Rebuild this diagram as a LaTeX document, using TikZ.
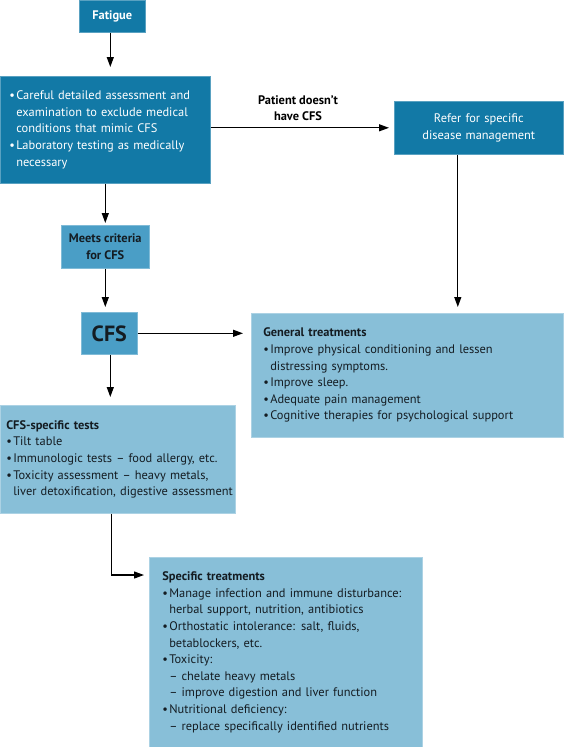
\documentclass[tikz,border=0pt]{standalone}
\usepackage{fontspec}
\setmainfont{PT Sans}
\usepackage{tikz}
\usetikzlibrary{arrows.meta}
\definecolor{boxdark}{RGB}{18,121,166}
\definecolor{boxmid}{RGB}{74,158,198}
\definecolor{boxlight}{RGB}{136,191,216}
\definecolor{txtdark}{RGB}{20,28,34}
\newcommand{\bul}{\makebox[7pt][l]{\textbullet}}
\newcommand{\ind}{\hspace*{7pt}}
\hyphenpenalty=10000
\exhyphenpenalty=10000
\hbadness=10000
\hfuzz=20pt
\tikzset{
  darkbox/.style={fill=boxdark, draw=boxdark!70!white, line width=0.6pt, text=white, anchor=north west, inner ysep=0pt},
  midbox/.style={fill=boxmid, draw=boxmid!70!white, line width=0.6pt, text=txtdark, anchor=north west, inner ysep=0pt, align=center, font=\bfseries\fontsize{12.4}{16.6}\selectfont},
  lightbox/.style={fill=boxlight, draw=boxlight!70!white, line width=0.6pt, text=txtdark, anchor=north west, inner ysep=0pt, align=left},
  arr/.style={black, line width=1.2pt, -{Triangle[length=10pt,width=7pt]}, shorten >=5pt}
}
\begin{document}
\begin{tikzpicture}[x=1pt,y=-1pt, font=\fontsize{12.4}{16.6}\selectfont]
\useasboundingbox (0,0) rectangle (563,747);
\coordinate (P1) at (79,0);
\coordinate (P2) at (0,76);
\coordinate (P3) at (394,101);
\coordinate (P4) at (61,225);
\coordinate (P5) at (81,312);
\coordinate (P6) at (251,313);
\coordinate (P7) at (0,405);
\coordinate (P8) at (149,557);
%------------------
\node[darkbox, minimum width=66pt, minimum height=32pt, inner xsep=0pt, font=\bfseries\fontsize{12.4}{16.6}\selectfont] (fatigue) at (P1) {Fatigue};
\node[darkbox, minimum width=210pt, minimum height=107pt, inner xsep=9pt, text width=192pt, align=left] (assess) at (P2)
  {\bul Careful detailed assessment and\\ \ind examination to exclude medical\\ \ind conditions that mimic CFS\\
   \bul Laboratory testing as medically\\ \ind necessary};
\node[darkbox, minimum width=169pt, minimum height=53pt, inner xsep=4pt, text width=161pt, align=center] (refer) at (P3)
  {Refer for specific\\ disease management};
\node[midbox, minimum width=88pt, minimum height=43pt, inner xsep=0pt] (meets) at (P4) {Meets criteria\\ for CFS};
\node[midbox, minimum width=56pt, minimum height=42pt, inner xsep=0pt, font=\bfseries\fontsize{22}{24}\selectfont] (cfs) at (P5) {CFS};
\node[lightbox, minimum width=312pt, minimum height=124pt, inner xsep=12pt, text width=288pt] (general) at (P6)
  {\textbf{General treatments}\\
   \bul Improve physical conditioning and lessen\\ \ind distressing symptoms.\\
   \bul Improve sleep.\\
   \bul Adequate pain management\\
   \bul Cognitive therapies for psychological support};
\node[lightbox, minimum width=235pt, minimum height=108pt, inner xsep=6pt, text width=223pt] (tests) at (P7)
  {\textbf{CFS-specific tests}\\
   \bul Tilt table\\
   \bul Immunologic tests -- food allergy, etc.\\
   \bul Toxicity assessment -- heavy metals,\\ \ind\mbox{liver detoxification, digestive assessment}};
\node[lightbox, minimum width=273pt, minimum height=190pt, inner xsep=13pt, text width=247pt] (specific) at (P8)
  {\textbf{Specific treatments}\\
   \bul Manage infection and immune disturbance:\\ \ind herbal support, nutrition, antibiotics\\
   \bul Orthostatic intolerance: salt, fluids,\\ \ind betablockers, etc.\\
   \bul Toxicity:\\
   \ind -- chelate heavy metals\\
   \ind -- improve digestion and liver function\\
   \bul Nutritional deficiency:\\
   \ind -- replace specifically identified nutrients};
\node[font=\bfseries\fontsize{12.4}{16.6}\selectfont, align=center] (nocfs) at (298,108) {Patient doesn’t\\ have CFS};
%------------------
\draw[arr, shorten >=9pt] ([xshift=-2pt]fatigue.south) -- ([xshift=-2pt]fatigue.south |- assess.north);
\draw[arr] (assess.east |- refer.west) -- (refer.west);
\draw[arr, shorten >=2pt] (assess.south -| meets.south) -- (meets.north);
\draw[arr] (meets.south) -- (meets.south |- cfs.north);
\draw[arr, shorten >=8pt] (cfs.east) -- (cfs.east -| general.west);
\draw[arr, shorten >=6pt] ([xshift=-21pt]refer.south) -- ([xshift=-21pt]refer.south |- general.north);
\draw[arr, shorten >=8pt] ([xshift=1pt]cfs.south) -- ([xshift=1pt]cfs.south |- tests.north);
\draw[arr] ([xshift=-6pt]tests.south) |- ([yshift=-18pt]specific.north west);
\end{tikzpicture}
\end{document}
